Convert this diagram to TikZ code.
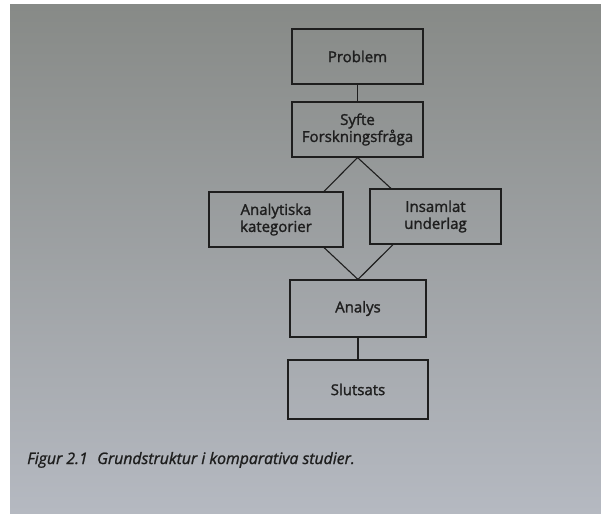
\documentclass[tikz,border=0pt]{standalone}
\usepackage{fontspec}
\setmainfont{Open Sans}
\newfontfamily\boxfont{Open Sans}[FakeBold=1.6]
\newfontfamily\capfont{Open Sans}[FakeBold=1.2]
\usetikzlibrary{positioning}
\definecolor{ink}{HTML}{1E1E1E}
\definecolor{pagetop}{HTML}{878A87}
\definecolor{pagemid}{HTML}{A3A6A9}
\definecolor{pagebot}{HTML}{B5B9C1}
\tikzset{
  box/.style={draw=ink, line width=1.1pt, minimum width=131pt, minimum height=55pt,
    inner sep=0pt, align=center, text=ink, font=\boxfont\fontsize{15}{17}\selectfont},
  link/.style={draw=ink, line width=1.1pt}
}
\begin{document}
\begin{tikzpicture}[x=1pt,y=-1pt]
\fill[white] (0,0) rectangle (601,513);
\useasboundingbox (0,0) rectangle (601,513);
\shade[top color=pagetop, middle color=pagemid, bottom color=pagebot] (10,5) rectangle (601,513);
\node[box] (P) at (357.5,56.5) {Problem};
\node[box] (S) at (357.5,129.5) {Syfte\\Forskningsfråga};
\node[box, minimum width=134pt] (A) at (276,219.5) {Analytiska\\kategorier};
\node[box] (I) at (435.5,216.5) {Insamlat\\underlag};
\node[box, minimum width=136pt, minimum height=57pt] (N) at (358,308.5) {Analys};
\node[box, minimum width=140pt, minimum height=59pt] (L) at (358,389.5) {Slutsats};
\draw[link] (P.south) -- (S.north);
\draw[link] (S.south) -- ([xshift=48pt]A.north);
\draw[link] (S.south) -- ([xshift=-44.5pt]I.north);
\draw[link] ([xshift=48pt]A.south) -- (N.north);
\draw[link] ([xshift=-42.5pt]I.south) -- (N.north);
\draw[link] (N.south) -- (L.north);
\node[anchor=base west, inner sep=0pt, text=ink, font=\capfont\fontsize{15.8}{19}\selectfont\itshape] (cap) at (27,464)
  {Figur 2.1\hspace{0.6em}Grundstruktur i komparativa studier.};
\end{tikzpicture}
\end{document}
